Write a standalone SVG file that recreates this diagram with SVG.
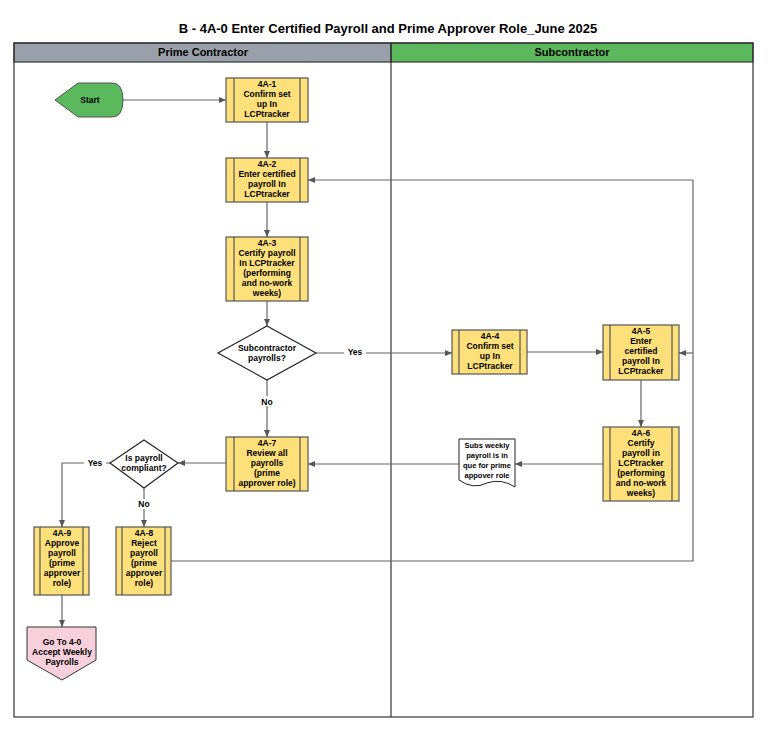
<svg xmlns="http://www.w3.org/2000/svg" width="768" height="732" viewBox="0 0 768 732">
<style>
text{font-family:"Liberation Sans",Arial,sans-serif;font-weight:bold;fill:#000;text-anchor:middle}
.t{font-size:8.5px}
.p{fill:#fde07a;stroke:#555;stroke-width:1.2}
.c{fill:none;stroke:#666;stroke-width:1.2}
.l{font-size:8.5px}
</style>
<defs>
<marker id="a" markerWidth="8" markerHeight="8" refX="7" refY="4" orient="auto" markerUnits="userSpaceOnUse"><path d="M0,1 L7,4 L0,7 Z" fill="#555"/></marker>
</defs>
<rect width="768" height="732" fill="#fff"/>
<text x="388" y="33" style="font-size:13px">B - 4A-0 Enter Certified Payroll and Prime Approver Role_June 2025</text>
<g id="pools">
<rect x="14" y="43" width="377" height="19" fill="#9aa0aa" stroke="#333" stroke-width="1.2"/>
<rect x="391" y="43" width="362" height="19" fill="#5cb85c" stroke="#333" stroke-width="1.2"/>
<rect x="14" y="43" width="739" height="674" fill="none" stroke="#333" stroke-width="1.2"/>
<line x1="391" y1="43" x2="391" y2="717" stroke="#333" stroke-width="1.2"/>
<text x="203" y="56" style="font-size:11px">Prime Contractor</text>
<text x="572" y="56" style="font-size:11px">Subcontractor</text>
</g>
<g id="connectors">
<path class="c" marker-end="url(#a)" d="M123,100 H226"/>
<path class="c" marker-end="url(#a)" d="M267,122 V158"/>
<path class="c" marker-end="url(#a)" d="M267,202 V237"/>
<path class="c" marker-end="url(#a)" d="M267,301 V326"/>
<path class="c" marker-end="url(#a)" d="M316,353 H452"/>
<path class="c" marker-end="url(#a)" d="M527,352 H603"/>
<path class="c" marker-end="url(#a)" d="M641,380 V427"/>
<path class="c" marker-end="url(#a)" d="M603,464 H515"/>
<path class="c" marker-end="url(#a)" d="M459,464 H308"/>
<path class="c" marker-end="url(#a)" d="M267,380 V437"/>
<path class="c" marker-end="url(#a)" d="M226,463 H178"/>
<path class="c" marker-end="url(#a)" d="M110,463 H62 V527"/>
<path class="c" marker-end="url(#a)" d="M144,488 V527"/>
<path class="c" marker-end="url(#a)" d="M62,595 V627"/>
<path class="c" d="M171,561 H693 V180"/>
<path class="c" marker-end="url(#a)" d="M693,180 H308"/>
<path class="c" marker-end="url(#a)" d="M693,353 H679"/>
<rect x="344" y="347" width="22" height="10" fill="#fff"/>
<text class="l" x="355" y="355">Yes</text>
<rect x="258" y="396" width="18" height="10" fill="#fff"/>
<text class="l" x="267" y="405">No</text>
<rect x="84" y="458" width="22" height="10" fill="#fff"/>
<text class="l" x="95" y="466">Yes</text>
<rect x="136" y="499" width="16" height="10" fill="#fff"/>
<text class="l" x="144" y="507">No</text>
</g>
<g id="start">
<path d="M55,100 L78,83 H112 Q123,83 123,100 Q123,117 112,117 H78 Z" fill="#5cb85c" stroke="#555"/>
<text class="t" x="90" y="103">Start</text>
</g>
<g id="n4A1"><rect class="p" x="226" y="78" width="82" height="44"/><path class="c" d="M234,78V122M300,78V122" style="stroke:#555"/>
<text class="t" x="267" y="87">4A-1</text><text class="t" x="267" y="97">Confirm set</text><text class="t" x="267" y="107">up In</text><text class="t" x="267" y="117">LCPtracker</text></g>
<g id="n4A2"><rect class="p" x="226" y="158" width="82" height="44"/><path class="c" d="M234,158V202M300,158V202" style="stroke:#555"/>
<text class="t" x="267" y="167">4A-2</text><text class="t" x="267" y="177">Enter certified</text><text class="t" x="267" y="187">payroll In</text><text class="t" x="267" y="197">LCPtracker</text></g>
<g id="n4A3"><rect class="p" x="226" y="237" width="82" height="64"/><path class="c" d="M234,237V301M300,237V301" style="stroke:#555"/>
<text class="t" x="267" y="246">4A-3</text><text class="t" x="267" y="256">Certify payroll</text><text class="t" x="267" y="266">In LCPtracker</text><text class="t" x="267" y="276">(performing</text><text class="t" x="267" y="286">and no-work</text><text class="t" x="267" y="296">weeks)</text></g>
<g id="d1"><path d="M267,326 L316,353 L267,380 L218,353 Z" fill="#fff" stroke="#222" stroke-width="1.2"/>
<text class="t" x="267" y="351">Subcontractor</text><text class="t" x="267" y="361">payrolls?</text></g>
<g id="n4A4"><rect class="p" x="452" y="330" width="75" height="44"/><path class="c" d="M459,330V374M520,330V374" style="stroke:#555"/>
<text class="t" x="490" y="339">4A-4</text><text class="t" x="490" y="349">Confirm set</text><text class="t" x="490" y="359">up In</text><text class="t" x="490" y="369">LCPtracker</text></g>
<g id="n4A5"><rect class="p" x="603" y="325" width="76" height="55"/><path class="c" d="M610,325V380M672,325V380" style="stroke:#555"/>
<text class="t" x="641" y="334">4A-5</text><text class="t" x="641" y="344">Enter</text><text class="t" x="641" y="354">certified</text><text class="t" x="641" y="364">payroll In</text><text class="t" x="641" y="374">LCPtracker</text></g>
<g id="n4A6"><rect class="p" x="603" y="427" width="76" height="74"/><path class="c" d="M610,427V501M672,427V501" style="stroke:#555"/>
<text class="t" x="641" y="436">4A-6</text><text class="t" x="641" y="446">Certify</text><text class="t" x="641" y="456">payroll  in</text><text class="t" x="641" y="466">LCPtracker</text><text class="t" x="641" y="476">(performing</text><text class="t" x="641" y="486">and no-work</text><text class="t" x="641" y="496">weeks)</text></g>
<g id="doc"><path d="M459,439 H515 V487 Q501,478 487,483 Q473,490 459,480 Z" fill="#fff" stroke="#222"/>
<text class="t" x="487" y="448" style="font-size:7.5px">Subs weekly</text><text class="t" x="487" y="458" style="font-size:7.5px">payroll is in</text><text class="t" x="487" y="468" style="font-size:7.5px">que for prime</text><text class="t" x="487" y="478" style="font-size:7.5px">appover role</text></g>
<g id="n4A7"><rect class="p" x="226" y="437" width="82" height="54"/><path class="c" d="M234,437V491M300,437V491" style="stroke:#555"/>
<text class="t" x="267" y="446">4A-7</text><text class="t" x="267" y="456">Review all</text><text class="t" x="267" y="466">payrolls</text><text class="t" x="267" y="476">(prime</text><text class="t" x="267" y="486">approver role)</text></g>
<g id="d2"><path d="M144,440 L178,463 L144,488 L110,463 Z" fill="#fff" stroke="#222" stroke-width="1.2"/>
<text class="t" x="144" y="461">Is payroll</text><text class="t" x="144" y="471">compliant?</text></g>
<g id="n4A9"><rect class="p" x="34" y="527" width="55" height="68"/><path class="c" d="M40,527V595M83,527V595" style="stroke:#555"/>
<text class="t" x="62" y="536">4A-9</text><text class="t" x="62" y="546">Approve</text><text class="t" x="62" y="556">payroll</text><text class="t" x="62" y="566">(prime</text><text class="t" x="62" y="576">approver</text><text class="t" x="62" y="586">role)</text></g>
<g id="n4A8"><rect class="p" x="116" y="527" width="55" height="68"/><path class="c" d="M122,527V595M165,527V595" style="stroke:#555"/>
<text class="t" x="144" y="536">4A-8</text><text class="t" x="144" y="546">Reject</text><text class="t" x="144" y="556">payroll</text><text class="t" x="144" y="566">(prime</text><text class="t" x="144" y="576">approver</text><text class="t" x="144" y="586">role)</text></g>
<g id="goto"><path d="M27,627 H96 V660 L62,680 L27,660 Z" fill="#f8d0dc" stroke="#333"/>
<text class="t" x="62" y="645">Go To 4-0</text><text class="t" x="62" y="655">Accept Weekly</text><text class="t" x="62" y="665">Payrolls</text></g>
</svg>
